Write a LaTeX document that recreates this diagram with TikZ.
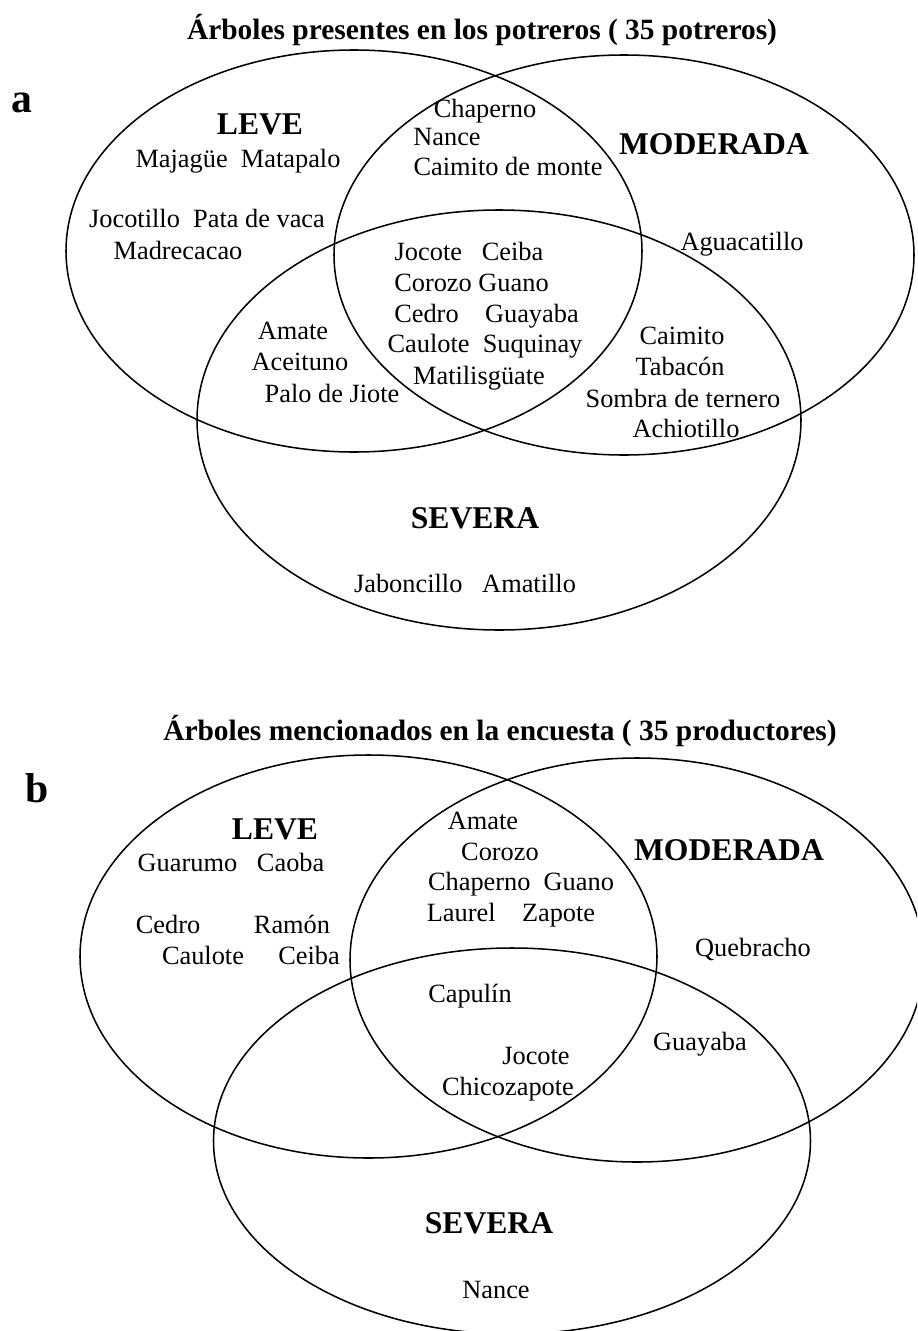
\documentclass[tikz,border=0pt,12pt]{standalone}
\usepackage{fontspec}
\setmainfont{Liberation Serif}
\begin{document}
\begin{tikzpicture}[scale=0.16]
\tikzstyle{every node}+=[inner sep=0pt, text height=1.5ex, text depth=.25ex]
\tikzstyle{titulo}=[font=\fontsize{13.4}{16}\selectfont\bfseries]
\tikzstyle{panel}=[font=\fontsize{19}{22}\selectfont\bfseries]
\tikzstyle{grado}=[font=\fontsize{14.4}{17}\selectfont\bfseries]
\useasboundingbox (0,0) rectangle (91.7,-133.1);
\clip (0,0) rectangle (91.7,-133.1);
% a
\draw (48.2,-3.2) node [titulo] (titA) {Árboles presentes en los potreros ( 35 potreros)};
\draw (2.2,-10.5) node [panel] (panA) {a};
\draw [black, line width=0.7pt] (35.4,-25.1) ellipse (28.8 and 20.1);
\draw [black, line width=0.7pt] (62.4,-25.5) ellipse (29.0 and 20.0);
\draw [black, line width=0.7pt] (49.9,-42.0) ellipse (30.2 and 21.0);
\draw (26.0,-12.7) node [grado] (leveA) {LEVE};
\draw (71.4,-14.7) node [grado] (modA) {MODERADA};
\draw (47.5,-52.1) node [grado] (sevA) {SEVERA};
\draw (23.8,-16.0) node (majague) {Majagüe~~Matapalo};
\draw (20.7,-22.0) node (jocotillo) {Jocotillo~~Pata de vaca};
\draw (17.8,-25.2) node (madrecacao) {Madrecacao};
\draw (48.5,-11.0) node (chapernoA) {Chaperno};
\draw (44.7,-13.8) node (nanceA) {Nance};
\draw (50.8,-16.8) node (caimitoM) {Caimito de monte};
\draw (74.2,-24.3) node (aguacatillo) {Aguacatillo};
\draw (46.9,-25.3) node (jocoteA) {Jocote~~~Ceiba};
\draw (47.15,-28.4) node (corozoA) {Corozo Guano};
\draw (48.65,-31.5) node (cedroA) {Cedro\quad Guayaba};
\draw (48.5,-34.5) node (cauloteA) {Caulote~~Suquinay};
\draw (47.9,-37.7) node (matilis) {Matilisgüate};
\draw (29.3,-33.2) node (amateA) {Amate};
\draw (30.0,-36.3) node (aceituno) {Aceituno};
\draw (33.2,-39.5) node (jiote) {Palo de Jiote};
\draw (68.2,-33.7) node (caimito) {Caimito};
\draw (68.0,-36.8) node (tabacon) {Tabacón};
\draw (68.3,-40.0) node (sombra) {Sombra de ternero};
\draw (68.6,-43.0) node (achiotillo) {Achiotillo};
\draw (46.5,-58.5) node (jaboncillo) {Jaboncillo~~~Amatillo};
% b
\draw (50.0,-73.3) node [titulo] (titB) {Árboles mencionados en la encuesta ( 35 productores)};
\draw (3.7,-79.5) node [panel] (panB) {b};
\draw [black, line width=0.7pt] (36.85,-95.65) ellipse (28.85 and 20.15);
\draw [black, line width=0.7pt] (63.7,-96.0) ellipse (28.7 and 20.2);
\draw [black, line width=0.7pt] (51.2,-114.1) ellipse (29.85 and 19.3);
\draw (27.5,-83.2) node [grado] (leveB) {LEVE};
\draw (72.9,-85.3) node [grado] (modB) {MODERADA};
\draw (48.9,-122.6) node [grado] (sevB) {SEVERA};
\draw (23.1,-86.4) node (guarumo) {Guarumo~~~Caoba};
\draw (16.8,-92.6) node (cedroB) {Cedro};
\draw (29.2,-92.6) node (ramon) {Ramón};
\draw (20.3,-95.7) node (cauloteB) {Caulote};
\draw (30.9,-95.7) node (ceibaB) {Ceiba};
\draw (48.3,-82.2) node (amateB) {Amate};
\draw (50.0,-85.3) node (corozoB) {Corozo};
\draw (52.1,-88.3) node (chapernoB) {Chaperno~~Guano};
\draw (51.1,-91.4) node (laurel) {Laurel\quad Zapote};
\draw (47.0,-99.5) node (capulin) {Capulín};
\draw (53.6,-105.7) node (jocoteB) {Jocote};
\draw (50.8,-108.8) node (chicozapote) {Chicozapote};
\draw (75.3,-94.9) node (quebracho) {Quebracho};
\draw (70.0,-104.3) node (guayabaB) {Guayaba};
\draw (49.6,-129.1) node (nanceB) {Nance};
\end{tikzpicture}
\end{document}
